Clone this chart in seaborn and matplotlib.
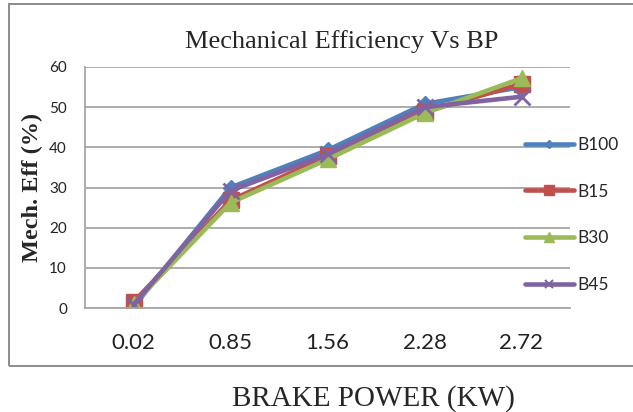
import matplotlib
matplotlib.use("Agg")
import matplotlib.pyplot as plt
import seaborn as sns
from matplotlib.lines import Line2D
from matplotlib.patches import Rectangle

# ---- data ----
brake_power = ["0.02", "0.85", "1.56", "2.28", "2.72"]
b100 = [0.3, 30.0, 39.3, 50.8, 55.0]
b15 = [1.5, 26.8, 37.8, 48.8, 55.8]
b30 = [1.0, 26.2, 37.0, 48.5, 57.2]
b45 = [0.8, 29.2, 38.3, 50.0, 52.6]
series_names = ["B100", "B15", "B30", "B45"]
y_ticks = [0, 10, 20, 30, 40, 50, 60]

series_values = [b100, b15, b30, b45]
colors = ["#4F81BD", "#C0504D", "#9BBB59", "#8064A2"]
markers = ["D", "s", "^", "x"]
msizes = [8, 11.5, 12, 11]
leg_msizes = [4.5, 7, 6.5, 6]

sns.set_style("white")
plt.rcParams["font.family"] = ["Lato", "DejaVu Sans"]

fig = plt.figure(figsize=(6.33, 4.12), dpi=100)
W, H = 633, 412
ax = fig.add_axes([85 / W, 1 - 308 / H, 485 / W, 241 / H])

# outer chart frame
fig.patches.append(Rectangle((9 / W, 1 - 366 / H), 700 / W, 362 / H,
                             transform=fig.transFigure, fill=False,
                             edgecolor="#8c8c8c", lw=1.4, zorder=0))

for name, vals, c, m, ms in zip(series_names, series_values, colors, markers, msizes):
    sns.lineplot(x=brake_power, y=vals, ax=ax, color=c, marker=m,
                 markersize=ms, markeredgecolor=c, markeredgewidth=2 if m == "x" else 1,
                 lw=3.3, legend=False, sort=False)

ax.set_xlim(-0.5, 4.5)
ax.set_ylim(0, 60)
ax.set_yticks(y_ticks)
ax.yaxis.grid(True, color="#a6a6a6", lw=1.3)
ax.xaxis.grid(False)
for s in ["top", "right"]:
    ax.spines[s].set_visible(False)
for s in ["left", "bottom"]:
    ax.spines[s].set_color("#a6a6a6")
    ax.spines[s].set_linewidth(1.3)
ax.tick_params(axis="y", length=0, labelsize=11, pad=13, labelcolor="#222222")
ax.tick_params(axis="x", length=0, labelsize=16, pad=18, labelcolor="#222222")

ax.set_title("Mechanical Efficiency Vs BP", family="Liberation Serif", fontsize=19,
             x=(342 - 85) / 485, y=1 + (67 - 48) / 241, pad=0)
ax.set_ylabel("Mech. Eff (%)", family="Liberation Serif", fontweight="bold", fontsize=17.5)
ax.yaxis.set_label_coords(-0.087, (308 - 187) / 241)
ax.set_xlabel("BRAKE POWER (KW)", family="Liberation Serif", fontsize=21)
ax.xaxis.set_label_coords((373 - 85) / 485, -0.32)

handles = [Line2D([], [], color=c, lw=3.3, marker=m, markersize=ms, markeredgecolor=c,
                  markeredgewidth=1.5 if m == "x" else 1)
           for c, m, ms in zip(colors, markers, leg_msizes)]
ax.legend(handles, series_names, loc="center left",
          bbox_to_anchor=((525 - 85) / 485, (308 - 215) / 241),
          frameon=False, fontsize=12.5, handlelength=2.8, handletextpad=0.2,
          labelspacing=1.78, borderpad=0, borderaxespad=0)

fig.savefig("out.png", dpi=100)
